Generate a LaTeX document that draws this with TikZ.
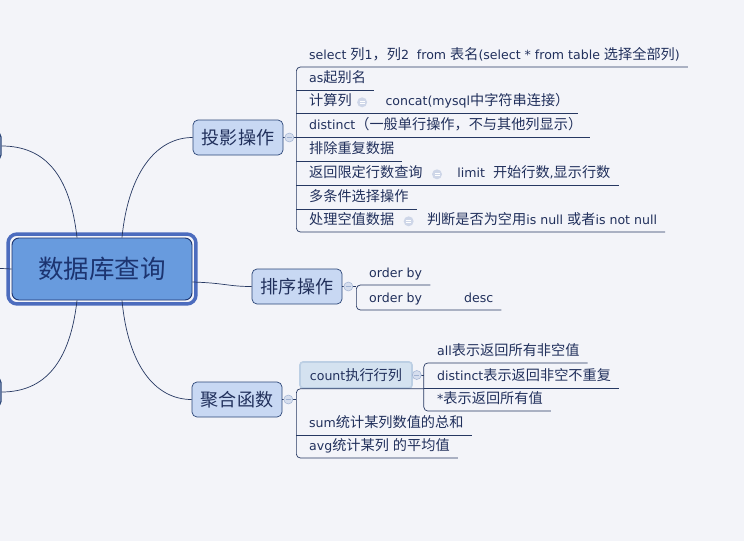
\documentclass[tikz,border=0pt]{standalone}
\usepackage{fontspec}
\setmainfont{DejaVu Sans}[Scale=0.93]
\newfontfamily\latinfont{DejaVu Sans}[Scale=0.93]
\newfontfamily\cjkfont{Noto Sans CJK SC}[Scale=1.05]
\usetikzlibrary{positioning}

% Chinese characters switch to the CJK font by themselves
\XeTeXinterchartokenstate=1
\newXeTeXintercharclass\cjkclass
\count255="3000
\loop\XeTeXcharclass\count255=\cjkclass \advance\count255 by 1 \ifnum\count255<"3040 \repeat
\count255="4E00
\loop\XeTeXcharclass\count255=\cjkclass \advance\count255 by 1 \ifnum\count255<"A000 \repeat
\count255="FF00
\loop\XeTeXcharclass\count255=\cjkclass \advance\count255 by 1 \ifnum\count255<"FFF0 \repeat
\XeTeXinterchartoks 0 \cjkclass={\cjkfont}
\XeTeXinterchartoks 4095 \cjkclass={\cjkfont}
\XeTeXinterchartoks \cjkclass 0={\latinfont}
\XeTeXinterchartoks \cjkclass 4095={\latinfont}

\definecolor{bgc}{RGB}{243,244,249}
\definecolor{ink}{RGB}{33,48,92}
\definecolor{linec}{RGB}{38,56,98}
\definecolor{rootfill}{RGB}{104,155,222}
\definecolor{rootrim}{RGB}{76,108,190}
\definecolor{rootline}{RGB}{28,52,112}
\definecolor{topicfill}{RGB}{200,216,243}
\definecolor{topicline}{RGB}{44,70,120}
\definecolor{countfill}{RGB}{212,226,240}
\definecolor{countrim}{RGB}{188,207,228}
\definecolor{foldfill}{RGB}{214,222,238}
\definecolor{foldline}{RGB}{160,178,210}
\definecolor{hintfill}{RGB}{206,214,232}

\begin{document}
\begin{tikzpicture}[x=1pt, y=-1pt,
    root/.style={draw=rootline, line width=0.9pt, fill=rootfill, rounded corners=7pt,
        minimum width=180pt, minimum height=62pt, inner sep=0pt, text=rootline,
        font=\fontsize{24.3}{29}\selectfont},
    topic/.style={draw=topicline, line width=0.7pt, fill=topicfill, rounded corners=5pt,
        minimum width=90pt, minimum height=35pt, inner sep=0pt, text=ink,
        font=\fontsize{17.2}{21}\selectfont},
    leaf/.style={anchor=south west, inner xsep=0pt, inner ysep=4pt, text height=10pt,
        text depth=3pt, text=ink, font=\fontsize{13.5}{16}\selectfont},
    countbox/.style={draw=countrim, line width=1.6pt, fill=countfill, rounded corners=3pt,
        minimum width=112pt, minimum height=26pt, inner sep=0pt, text=ink,
        font=\fontsize{13.5}{16}\selectfont},
    link/.style={draw=linec, line width=0.7pt},
    fold/.style={circle, draw=foldline, fill=foldfill, line width=0.5pt, minimum size=9pt,
        inner sep=0pt, path picture={
            \draw[foldline, line width=0.6pt]
                ([xshift=-2.5pt]path picture bounding box.center) -- ++(5pt,0pt);}},
    hint/.style={circle, fill=hintfill, minimum size=10pt, inner sep=0pt, path picture={
            \draw[white, line width=0.7pt]
                ([shift={(-2.5pt,1.2pt)}]path picture bounding box.center) -- ++(5pt,0pt)
                ([shift={(-2.5pt,-1.2pt)}]path picture bounding box.center) -- ++(5pt,0pt);}}
]
    \useasboundingbox (0,0) rectangle (744,541);
    \fill[bgc] (0,0) rectangle (744,541);
    \clip (0,0) rectangle (744,541);

    % centre topic
    \node[root] (root) at (102,269) {数据库查询};
    \draw[rootrim, line width=3.5pt, rounded corners=9pt]
        ([shift={(-3.5pt,3.5pt)}]root.north west) rectangle ([shift={(3.5pt,-3.5pt)}]root.south east);

    % cut-off topics on the left
    \node[topic, minimum height=28pt, line width=1.2pt] (lefta) at (-44,146) {};
    \node[topic, minimum height=29pt, line width=1.2pt] (leftb) at (-44,392) {};
    \coordinate (leftc) at (-8,268);
    \draw[link] (root.west) -- (leftc);
    \draw[link] ([xshift=-25pt]root.north) .. controls (70,175) and (45,146) .. (lefta.east);
    \draw[link] ([xshift=-25pt]root.south) .. controls (70,362) and (45,392) .. (leftb.east);

    % main topics
    \node[topic] (proj) at (238,137.5) {投影操作};
    \node[topic] (sort) at (297,286.5) {排序操作};
    \node[topic] (agg) at (237,399.5) {聚合函数};

    \draw[link] ([xshift=20pt]root.north) .. controls (128,175) and (155,137.5) .. (proj.west);
    \draw[link] ([yshift=-13pt]root.east) .. controls (225,283) and (228,286.5) .. (sort.west);
    \draw[link] ([xshift=20pt]root.south) .. controls (128,365) and (155,399.5) .. (agg.west);

    % projection
    \coordinate (pb) at ([xshift=13pt]proj.east);
    \node[leaf] (p1) at (309,67) {select 列1，列2\ \ from 表名(select * from table 选择全部列)};
    \node[leaf] (p2) at (309,90) {as起别名};
    \node[leaf] (p3) at (309,113) {计算列};
    \node[hint, right=5pt of p3] (h3) {};
    \node[leaf, right=18pt of h3] (p3b) {concat(mysql中字符串连接）};
    \node[leaf] (p4) at (309,137) {distinct（一般单行操作，不与其他列显示）};
    \node[leaf] (p5) at (309,161) {排除重复数据};
    \node[leaf] (p6) at (309,185) {返回限定行数查询};
    \node[hint, right=9pt of p6] (h6) {};
    \node[leaf, right=15pt of h6] (p6b) {limit\ \ 开始行数,显示行数};
    \node[leaf] (p7) at (309,209) {多条件选择操作};
    \node[leaf] (p8) at (309,232) {处理空值数据};
    \node[hint, right=9pt of p8] (h8) {};
    \node[leaf, right=13pt of h8] (p8b) {判断是否为空用is null 或者is not null};

    \draw[link] (proj.east) -- (pb);
    \draw[link, rounded corners=4pt] ([xshift=8pt]p1.south east) -- (p1.south -| pb)
        -- (p8.south -| pb) -- ([xshift=8pt]p8b.south east);
    \draw[link] (p2.south -| pb) -- ([xshift=8pt]p2.south east);
    \draw[link] (p3.south -| pb) -- ([xshift=8pt]p3b.south east);
    \draw[link] (p4.south -| pb) -- ([xshift=8pt]p4.south east);
    \draw[link] (p5.south -| pb) -- ([xshift=8pt]p5.south east);
    \draw[link] (p6.south -| pb) -- ([xshift=8pt]p6b.south east);
    \draw[link] (p7.south -| pb) -- ([xshift=8pt]p7.south east);
    \node[fold] at ([xshift=6pt]proj.east) {};

    % sorting
    \coordinate (sb) at ([xshift=14pt]sort.east);
    \node[leaf] (s1) at (369,285) {order by};
    \node[leaf] (s2) at (369,310) {order by\hspace{42pt}desc};
    \draw[link] (sort.east) -- (sb);
    \draw[link, rounded corners=4pt] ([xshift=8pt]s1.south east) -- (s1.south -| sb)
        -- (s2.south -| sb) -- ([xshift=8pt]s2.south east);
    \node[fold] at ([xshift=6pt]sort.east) {};

    % aggregation
    \coordinate (gb) at ([xshift=14pt]agg.east);
    \node[countbox] (g1) at (356,375) {count执行行列};
    \node[leaf] (g2) at (309,435) {sum统计某列数值的总和};
    \node[leaf] (g3) at (309,458) {avg统计某列 的平均值};
    \coordinate (cb) at ([xshift=11pt]g1.east);
    \node[leaf] (c1) at (437,363) {all表示返回所有非空值};
    \node[leaf] (c2) at (437,388) {distinct表示返回非空不重复};
    \node[leaf] (c3) at (437,411) {*表示返回所有值};

    \draw[link] (agg.east) -- (gb);
    \draw[link, rounded corners=4pt] (g1.south -| cb) -- (g1.south -| gb)
        -- (g3.south -| gb) -- ([xshift=8pt]g3.south east);
    \draw[link] (g2.south -| gb) -- ([xshift=8pt]g2.south east);
    \draw[link] (g1.east) -- (cb);
    \draw[link, rounded corners=4pt] ([xshift=8pt]c1.south east) -- (c1.south -| cb)
        -- (c3.south -| cb) -- ([xshift=8pt]c3.south east);
    \draw[link] (c2.south -| cb) -- ([xshift=8pt]c2.south east);
    \node[fold] at ([xshift=6pt]agg.east) {};
    \node[fold] at ([xshift=4pt]g1.east) {};
\end{tikzpicture}
\end{document}
